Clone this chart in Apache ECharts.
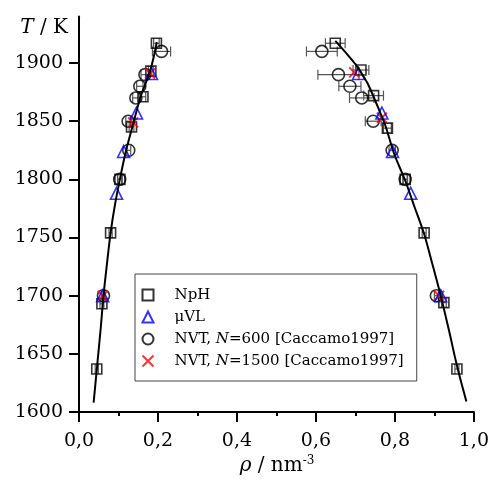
<!DOCTYPE html>
<html><head><meta charset="utf-8">
<script src="https://cdn.jsdelivr.net/npm/echarts@6/dist/echarts.min.js"></script>
<style>html,body{margin:0;padding:0;background:#fff}#c{width:492px;height:487px}</style>
</head><body><div id="c"></div>
<script>
// ---- data: [rho (nm^-3), T (K), horizontal error] ----
const npH = [
  [0.045,1637,0.004],[0.058,1693,0.005],[0.080,1754,0.004],[0.1035,1800,0.006],
  [0.133,1845,0.006],[0.162,1871,0.007],[0.182,1893,0.006],[0.196,1917,0.007],
  [0.649,1917,0.025],[0.714,1894,0.020],[0.746,1872,0.025],[0.781,1844,0.010],
  [0.826,1800,0.006],[0.874,1754,0.005],[0.924,1694,0.006],[0.957,1637,0.005]
];
const muVL = [
  [0.060,1700],[0.095,1788],[0.113,1824],[0.1456,1857],[0.1835,1891],
  [0.708,1891],[0.767,1857],[0.794,1824],[0.840,1788],[0.916,1700]
];
const nvt600 = [
  [0.062,1700,0.004],[0.103,1800,0.005],[0.126,1825,0.005],[0.1245,1850,0.006],
  [0.144,1870,0.008],[0.154,1880,0.008],[0.167,1890,0.010],[0.209,1910,0.023],
  [0.905,1700,0.005],[0.826,1800,0.005],[0.793,1825,0.008],[0.745,1850,0.020],
  [0.716,1870,0.031],[0.686,1880,0.028],[0.657,1890,0.052],[0.615,1910,0.039]
];
const nvt1500 = [
  [0.060,1700],[0.137,1849],[0.180,1891],[0.697,1892],[0.767,1853],[0.912,1700]
];
const fitLeft = [
  [0.037,1608],[0.046,1640],[0.055,1672],[0.062,1700],[0.071,1728],[0.080,1754],
  [0.091,1778],[0.1035,1800],[0.118,1823],[0.135,1845],[0.155,1870],[0.168,1882],
  [0.180,1893],[0.189,1905],[0.197,1918]
];
const fitRight = [
  [0.649,1919],[0.665,1913],[0.683,1906],[0.700,1899],[0.714,1892],[0.730,1883],
  [0.746,1871],[0.762,1858],[0.777,1845],[0.798,1822],[0.826,1799],[0.850,1776],
  [0.874,1753],[0.895,1727],[0.916,1700],[0.937,1670],[0.957,1640],[0.981,1609]
];
const yTicks = [1600,1650,1700,1750,1800,1850,1900];
const names = ['NpH','μVL','NVT, N=600 [Caccamo1997]','NVT, N=1500 [Caccamo1997]'];

const FONT = 'DejaVu Serif';
const chart = echarts.init(document.getElementById('c'), null, {renderer:'canvas'});

function errRender(params, api){
  const x = api.value(0), y = api.value(1), e = api.value(2);
  const p1 = api.coord([x-e, y]), p2 = api.coord([x+e, y]);
  const st = {stroke:'#555', lineWidth:1.2};
  return {type:'group', children:[
    {type:'line', shape:{x1:p1[0],y1:p1[1],x2:p2[0],y2:p2[1]}, style:st},
    {type:'line', shape:{x1:p1[0],y1:p1[1]-5,x2:p1[0],y2:p1[1]+5}, style:st},
    {type:'line', shape:{x1:p2[0],y1:p2[1]-5,x2:p2[0],y2:p2[1]+5}, style:st}
  ]};
}

const hollow = c => ({color:'transparent', borderColor:c, borderWidth:1.6});

chart.setOption({
  animation:false,
  backgroundColor:'#fff',
  grid:{left:79, right:17, top:16.5, bottom:75},
  xAxis:{
    type:'value', min:0, max:1, interval:0.2,
    axisLine:{lineStyle:{color:'#000', width:2}},
    axisTick:{length:10, lineStyle:{color:'#000', width:2}},
    minorTick:{show:true, splitNumber:2, length:4, lineStyle:{color:'#000', width:2}},
    splitLine:{show:false},
    axisLabel:{margin:20, color:'#000', fontFamily:FONT, fontSize:19,
      formatter:v=>v.toFixed(1).replace('.',',')}
  },
  yAxis:{
    type:'value', min:1600, max:1940, interval:50,
    axisLine:{lineStyle:{color:'#000', width:2}},
    axisTick:{length:10, customValues:yTicks, lineStyle:{color:'#000', width:2}},
    splitLine:{show:false},
    axisLabel:{margin:16, color:'#000', fontFamily:FONT, fontSize:19, customValues:yTicks,
      formatter:v=>String(Math.round(v))}
  },
  legend:{
    data:names, orient:'vertical', left:135, top:274,
    padding:[12,13,11,5], itemGap:4, itemWidth:11, itemHeight:11,
    borderColor:'#444', borderWidth:1, backgroundColor:'#fff',
    textStyle:{fontFamily:FONT, fontSize:15, color:'#000', lineHeight:18, padding:[0,0,0,16],
      rich:{i:{fontFamily:FONT, fontSize:15, fontStyle:'italic', color:'#000'}}},
    formatter:n=>n.replace(', N=', ', {i|N}=')
  },
  graphic:[
    {type:'text', x:68, y:28, style:{text:'{i|T} / K', align:'right', verticalAlign:'middle',
      fontFamily:FONT, fontSize:20, fill:'#000',
      rich:{i:{fontFamily:FONT, fontSize:20, fontStyle:'italic', fill:'#000'}}}},
    {type:'text', x:277, y:466, style:{text:'{i|ρ} / nm{s|-3}', align:'center', verticalAlign:'middle',
      fontFamily:FONT, fontSize:20, fill:'#000',
      rich:{i:{fontFamily:FONT, fontSize:20, fontStyle:'italic', fill:'#000'},
            s:{fontFamily:FONT, fontSize:12, fill:'#000', padding:[0,0,10,0]}}}}
  ],
  series:[
    {type:'line', data:fitLeft, showSymbol:false, smooth:0.3, lineStyle:{color:'#000', width:2}, silent:true},
    {type:'line', data:fitRight, showSymbol:false, smooth:0.3, lineStyle:{color:'#000', width:2}, silent:true},
    {type:'custom', data:npH, renderItem:errRender, encode:{x:0,y:1}, silent:true},
    {type:'custom', data:nvt600, renderItem:errRender, encode:{x:0,y:1}, silent:true},
    {name:names[0], type:'scatter', data:npH.map(d=>[d[0],d[1]]), symbol:'rect', symbolSize:10, itemStyle:hollow('#000')},
    {name:names[2], type:'scatter', data:nvt600.map(d=>[d[0],d[1]]), symbol:'circle', symbolSize:12, itemStyle:hollow('#000')},
    {name:names[3], type:'scatter', data:nvt1500, symbol:'path://M0,0L10,10M10,0L0,10', symbolSize:10,
      itemStyle:{color:'none', borderColor:'#f00', borderWidth:2}},
    {name:names[1], type:'scatter', data:muVL, symbol:'triangle', symbolSize:12, itemStyle:hollow('#00f')}
  ]
});
</script></body></html>
